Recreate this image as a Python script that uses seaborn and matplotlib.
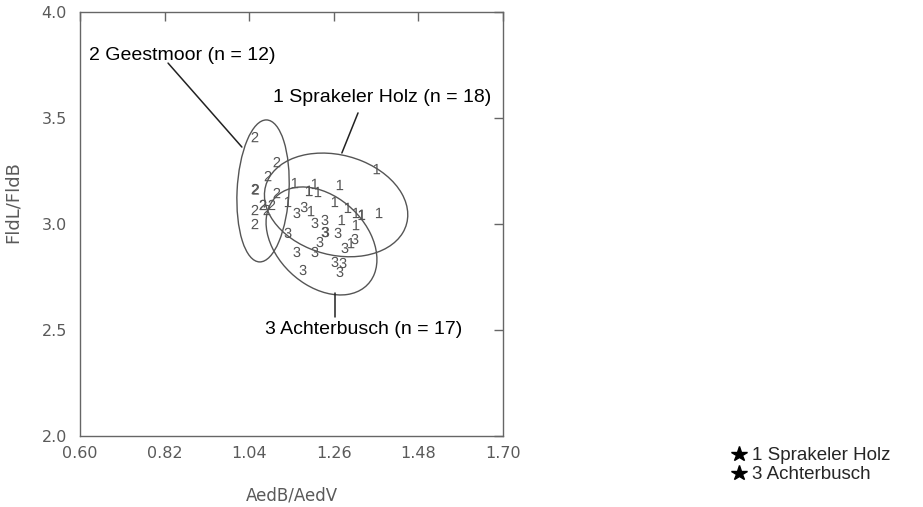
import numpy as np
import pandas as pd
import matplotlib
matplotlib.use("Agg")
import matplotlib.pyplot as plt
import seaborn as sns
from matplotlib.patches import Ellipse
from matplotlib.lines import Line2D
from matplotlib.font_manager import FontProperties

# ---- data ----
sprak_x = [1.372, 1.159, 1.211, 1.196, 1.219, 1.276, 1.141, 1.201, 1.263,
           1.297, 1.318, 1.333, 1.378, 1.281, 1.318, 1.305, 1.196, 1.333]
sprak_y = [3.259, 3.193, 3.189, 3.156, 3.151, 3.184, 3.104, 3.061, 3.104,
           3.076, 3.052, 3.043, 3.052, 3.019, 2.995, 2.910, 3.156, 3.043]

geest_x = [1.055, 1.112, 1.089, 1.055, 1.057, 1.112, 1.055, 1.076, 1.099,
           1.086, 1.055, 1.076]
geest_y = [3.410, 3.292, 3.226, 3.165, 3.163, 3.146, 3.066, 3.090, 3.090,
           3.066, 3.000, 3.090]

achter_x = [1.164, 1.183, 1.211, 1.237, 1.237, 1.239, 1.271, 1.141, 1.224,
            1.315, 1.289, 1.164, 1.211, 1.263, 1.284, 1.276, 1.180]
achter_y = [3.052, 3.080, 3.005, 3.019, 2.962, 2.962, 2.958, 2.958, 2.915,
            2.929, 2.887, 2.868, 2.868, 2.821, 2.816, 2.774, 2.783]

site_codes = ["1", "2", "3"]
site_names = ["1 Sprakeler Holz (n = 18)", "2 Geestmoor (n = 12)",
              "3 Achterbusch (n = 17)"]
legend_names = ["1 Sprakeler Holz", "3 Achterbusch"]

# ellipses (data units): centre, width, height, angle
ell_cx = [1.266, 1.076, 1.228]
ell_cy = [3.090, 3.156, 2.920]
ell_w = [0.358, 0.135, 0.264]
ell_h = [0.500, 0.670, 0.5225]
ell_ang = [17.3, -1.5, 14.9]

xticks = [0.60, 0.82, 1.04, 1.26, 1.48, 1.70]
xtick_labels = ["0.60", "0.82", "1.04", "1.26", "1.48", "1.70"]
yticks = [2.0, 2.5, 3.0, 3.5, 4.0]
ytick_labels = ["2.0", "2.5", "3.0", "3.5", "4.0"]

# ---- style ----
sns.set_theme(style="white")
plt.rcParams['font.family'] = ['DejaVu Sans']
plt.rcParams['mathtext.fontset'] = 'custom'
plt.rcParams['mathtext.rm'] = 'Liberation Sans'
plt.rcParams['mathtext.it'] = 'Liberation Sans:italic'

grey = "#555555"
frame = "#666666"
label_grey = "#5a5a5a"

fig = plt.figure(figsize=(9.23, 5.07), dpi=100)
ax = fig.add_axes([80 / 923, 1 - 436 / 507, 423 / 923, 424 / 507])

df = pd.DataFrame({
    "x": sprak_x + geest_x + achter_x,
    "y": sprak_y + geest_y + achter_y,
    "site": ["1"] * len(sprak_x) + ["2"] * len(geest_x) + ["3"] * len(achter_x),
})

markers = {c: r"$\mathrm{%s}$" % c for c in site_codes}
sns.scatterplot(data=df, x="x", y="y", style="site", markers=markers,
                style_order=site_codes, color=grey, s=55, linewidth=0,
                legend=False, ax=ax, zorder=3)

for cx, cy, w, h, a in zip(ell_cx, ell_cy, ell_w, ell_h, ell_ang):
    ax.add_patch(Ellipse((cx, cy), w, h, angle=a, fill=False,
                         edgecolor=grey, linewidth=1.0, zorder=2))

# annotations
lab_font = FontProperties(family="Liberation Sans", size=14)
ax.text(0.8653, 3.797, site_names[1], ha="center", va="center",
        fontproperties=lab_font, color="black")
ax.plot([0.829, 1.021], [3.759, 3.363], color="#222222", lw=1.1)
ax.text(1.3867, 3.599, site_names[0], ha="center", va="center",
        fontproperties=lab_font, color="black")
ax.plot([1.323, 1.281], [3.524, 3.335], color="#222222", lw=1.1)
ax.text(1.3386, 2.500, site_names[2], ha="center", va="center",
        fontproperties=lab_font, color="black")
ax.plot([1.263, 1.263], [2.675, 2.561], color="#222222", lw=1.1)

ax.set_xlim(0.60, 1.70)
ax.set_ylim(2.0, 4.0)
ax.set_xticks(xticks)
ax.set_xticklabels(xtick_labels)
ax.set_yticks(yticks)
ax.set_yticklabels(ytick_labels)
ax.tick_params(axis="both", direction="in", length=6.5, width=1, color=frame,
               top=True, right=True, labelsize=11.5, labelcolor=label_grey)
ax.tick_params(axis="x", pad=7.5)
ax.tick_params(axis="y", pad=9.5)
for sp in ax.spines.values():
    sp.set_color(frame)
    sp.set_linewidth(1.0)
    sp.set_visible(True)

ax.set_xlabel("AedB/AedV", fontsize=12, color=label_grey)
ax.xaxis.set_label_coords(0.5, -0.118)
ax.set_ylabel("FldL/FldB", fontsize=13, color=label_grey)
ax.yaxis.set_label_coords(-0.137, 0.552)

handles = [Line2D([], [], marker="*", color="black", linestyle="none",
                  markersize=11.5) for _ in legend_names]
fig.legend(handles, legend_names, loc="upper left",
           bbox_to_anchor=(0.793, 0.118), frameon=False,
           prop=FontProperties(family="Liberation Sans", size=13.5),
           handlelength=0.8, handletextpad=0.25, labelspacing=0.1,
           borderpad=0, borderaxespad=0)

fig.savefig("out.png", dpi=100)
